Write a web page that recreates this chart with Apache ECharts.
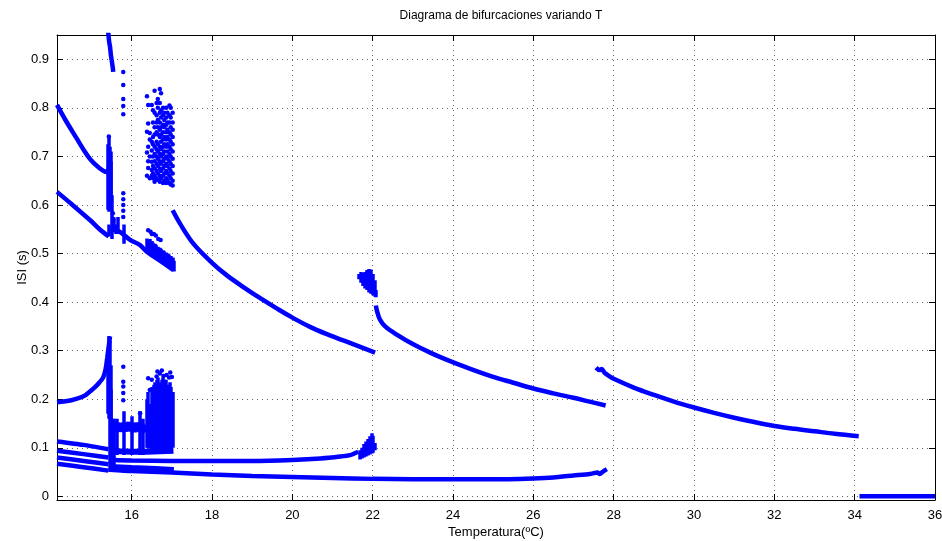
<!DOCTYPE html>
<html>
<head>
<meta charset="utf-8">
<script src="https://cdn.jsdelivr.net/npm/echarts@6/dist/echarts.min.js"></script>
<style>html,body{margin:0;padding:0;background:#fff}#c{width:942px;height:541px}</style>
</head>
<body>
<div id="c"></div>
<script>
// ---- axis ticks ----
const xTicks = [16, 18, 20, 22, 24, 26, 28, 30, 32, 34, 36];
const yTicks = [0, 0.1, 0.2, 0.3, 0.4, 0.5, 0.6, 0.7, 0.8, 0.9];

// ---- smooth branches [T, ISI] ----
const upperBranch = [[14.14,0.806],[14.35,0.775],[14.63,0.737],[14.8,0.714],[14.96,0.695],[15.1,0.683],[15.21,0.675],[15.3,0.670],[15.38,0.668],[15.42,0.672],[15.45,0.69]];
const topBranch = [[15.41,0.96],[15.44,0.935],[15.46,0.926],[15.48,0.91],[15.50,0.899],[15.53,0.882],[15.54,0.874]];
const midBranch = [[14.14,0.627],[14.5,0.602],[14.96,0.569],[15.2,0.55],[15.43,0.535]];
const midBranch2 = [[15.5,0.55],[15.7,0.545],[15.96,0.528],[16.2,0.518],[16.37,0.504],[16.62,0.49],[17.04,0.466]];
const lowBranch = [[14.14,0.194],[14.5,0.198],[14.8,0.206],[14.96,0.216],[15.1,0.226],[15.2,0.235],[15.29,0.245],[15.35,0.262],[15.39,0.285],[15.43,0.31],[15.46,0.329]];
const leftLine1 = [[14.14,0.113],[14.8,0.106],[15.42,0.097]];
const leftLine2 = [[14.14,0.094],[14.8,0.087],[15.42,0.08]];
const leftLine3 = [[14.14,0.080],[14.8,0.073],[15.42,0.066]];
const leftLine4 = [[14.14,0.067],[14.8,0.06],[15.42,0.053]];
const bandA = [[15.52,0.14],[15.6,0.147],[15.68,0.138],[15.75,0.145],[15.85,0.14],[15.95,0.147],[16.05,0.138],[16.15,0.146],[16.25,0.138],[16.36,0.145]];
const bandB = [[15.45,0.095],[15.7,0.093],[16,0.092],[16.36,0.092],[17.04,0.094]];
const lineC = [[15.45,0.078],[15.6,0.075],[16,0.074],[17,0.073],[18,0.073],[19,0.073],[20,0.075],[20.7,0.078],[21.19,0.082],[21.44,0.085],[21.64,0.092]];
const lineD = [[15.45,0.055],[16,0.052],[17,0.049],[18,0.045],[19,0.042],[20,0.04],[21,0.038],[22,0.036],[24,0.035],[25,0.035],[26,0.037],[26.5,0.039],[27,0.043],[27.4,0.046],[27.6,0.049],[27.65,0.046],[27.75,0.052],[27.83,0.056]];
const lineD2 = [[15.45,0.062],[16,0.06],[16.6,0.058],[17.05,0.056]];
const curve17to22 = [[17.02,0.589],[17.2,0.562],[17.53,0.521],[18.0,0.481],[18.37,0.455],[18.78,0.431],[19.2,0.408],[19.61,0.387],[20.0,0.368],[20.44,0.349],[20.86,0.334],[21.27,0.321],[21.69,0.308],[22.06,0.296]];
const curve22to28 = [[22.08,0.393],[22.1,0.384],[22.18,0.364],[22.31,0.35],[22.6,0.333],[23.01,0.313],[23.43,0.296],[23.85,0.281],[24.35,0.265],[25,0.246],[25.5,0.234],[26,0.222],[26.5,0.212],[27,0.203],[27.4,0.195],[27.8,0.187]];
const curve28to34 = [[27.56,0.265],[27.65,0.26],[27.7,0.262],[27.78,0.254],[27.9,0.247],[28.0,0.242],[28.5,0.224],[29,0.209],[29.5,0.195],[30,0.183],[30.5,0.172],[31,0.162],[31.5,0.153],[32,0.145],[32.5,0.139],[33,0.134],[33.5,0.129],[34.1,0.124]];
const zeroBranch = [[34.12,0],[36,0]];

// ---- vertical spreads [T, ISImin, ISImax] ----
const spreads = [
  [15.41,0.59,0.725],[15.43,0.586,0.74],[15.45,0.59,0.72],[15.47,0.595,0.71],[15.49,0.6,0.69],[15.51,0.575,0.62],
  [15.43,0.535,0.56],[15.5,0.53,0.575],[15.56,0.545,0.57],[15.6,0.54,0.56],[15.79,0.52,0.56],[15.65,0.54,0.575],
  [15.40,0.17,0.3],[15.43,0.16,0.33],[15.45,0.05,0.32],[15.47,0.05,0.27],[15.49,0.05,0.22],[15.52,0.05,0.16],[15.55,0.06,0.16],
  [15.62,0.085,0.16],[15.79,0.085,0.175],[16.0,0.085,0.165],[16.2,0.085,0.175],[16.28,0.085,0.16],
  [16.37,0.503,0.531],[16.41,0.5,0.528],[16.45,0.498,0.53],[16.49,0.496,0.526],[16.53,0.494,0.522],[16.57,0.491,0.52],[16.61,0.489,0.518],[16.65,0.487,0.514],[16.69,0.484,0.512],[16.73,0.482,0.51],[16.77,0.479,0.507],[16.81,0.477,0.505],[16.85,0.475,0.502],[16.89,0.473,0.5],[16.93,0.471,0.498],[16.97,0.468,0.495],[17.01,0.465,0.492],[17.04,0.463,0.485],
  [16.37,0.1,0.2],[16.41,0.099,0.215],[16.45,0.098,0.19],[16.5,0.097,0.225],[16.54,0.097,0.23],[16.58,0.096,0.235],[16.62,0.096,0.24],[16.66,0.096,0.245],[16.70,0.096,0.235],[16.74,0.096,0.24],[16.78,0.096,0.245],[16.82,0.097,0.235],[16.86,0.097,0.24],[16.90,0.097,0.23],[16.94,0.098,0.235],[16.98,0.098,0.225],[17.02,0.1,0.215],
  [21.65,0.447,0.458],[21.7,0.44,0.462],[21.75,0.433,0.46],[21.8,0.428,0.462],[21.85,0.425,0.466],[21.9,0.42,0.468],[21.95,0.417,0.467],[22.0,0.414,0.458],[22.04,0.411,0.445],[22.07,0.41,0.425],
  [21.68,0.076,0.095],[21.73,0.078,0.1],[21.78,0.08,0.108],[21.83,0.082,0.113],[21.88,0.084,0.118],[21.93,0.086,0.124],[21.97,0.088,0.13],[22.01,0.09,0.125],[22.05,0.095,0.11]
];

// ---- isolated points ----
const dots = [
  [15.79,0.874],[15.79,0.847],[15.79,0.818],[15.79,0.804],[15.79,0.787],[15.43,0.741],
  [15.79,0.624],[15.79,0.612],[15.79,0.6],[15.79,0.588],[15.79,0.575],[15.53,0.583],[15.55,0.571],
  [16.41,0.548],[16.47,0.545],[16.55,0.54],[16.6,0.537],[16.66,0.53],[16.72,0.528],[16.5,0.54],
  [15.79,0.267],[15.79,0.236],[15.79,0.226],[15.79,0.213],[15.79,0.198],[16.21,0.171],
  [16.41,0.243],[16.5,0.24],[16.62,0.247],[16.64,0.257],[16.75,0.259],[16.87,0.25],[17.0,0.246],[16.83,0.236],
  [16.45,0.219],[16.58,0.219],[16.7,0.253],[16.93,0.245],[16.96,0.255],[16.79,0.248]
];

// ---- chaotic cluster near 16.4-17.0 (upper) : [T, [ISI values]] ----
const upperCluster = [
  [16.38,[0.824,0.751,0.708,0.66]],
  [16.41,[0.806,0.768,0.72,0.69,0.676]],
  [16.45,[0.748,0.70,0.735,0.655]],
  [16.50,[0.806,0.73,0.712,0.689,0.672,0.66]],
  [16.53,[0.795,0.77,0.74,0.725,0.70,0.68,0.665,0.655]],
  [16.57,[0.835,0.79,0.76,0.745,0.72,0.705,0.69,0.675,0.66,0.648]],
  [16.62,[0.81,0.785,0.77,0.75,0.73,0.715,0.70,0.685,0.67,0.655]],
  [16.65,[0.818,0.80,0.775,0.76,0.745,0.725,0.71,0.695,0.68,0.665,0.652]],
  [16.70,[0.839,0.81,0.79,0.77,0.755,0.74,0.72,0.705,0.69,0.675,0.66,0.648]],
  [16.73,[0.83,0.795,0.78,0.76,0.745,0.73,0.715,0.70,0.685,0.67,0.655]],
  [16.78,[0.80,0.785,0.765,0.75,0.735,0.72,0.705,0.69,0.675,0.66,0.645]],
  [16.81,[0.79,0.775,0.76,0.74,0.725,0.71,0.695,0.68,0.665,0.65]],
  [16.86,[0.80,0.78,0.765,0.75,0.735,0.72,0.70,0.685,0.67,0.655,0.645]],
  [16.89,[0.79,0.77,0.755,0.74,0.725,0.71,0.695,0.68,0.665,0.65]],
  [16.94,[0.805,0.785,0.77,0.75,0.735,0.72,0.705,0.69,0.675,0.66,0.645]],
  [16.97,[0.80,0.78,0.76,0.745,0.73,0.715,0.70,0.685,0.67,0.655,0.642]],
  [17.02,[0.79,0.77,0.755,0.74,0.725,0.71,0.695,0.68,0.665,0.65,0.64]]
];

const BLUE = '#0000ff';
const smoothCurves = [upperBranch, topBranch, midBranch, midBranch2, lowBranch, curve17to22, curve22to28, curve28to34];
const straightCurves = [leftLine1, leftLine2, leftLine3, leftLine4, lineC, lineD, lineD2, zeroBranch];
const series = [];
smoothCurves.forEach(c => series.push({type:'line', data:c, symbol:'none', smooth:0.35, lineStyle:{color:BLUE, width:4.5}, silent:true, animation:false, z:3}));
straightCurves.forEach(c => series.push({type:'line', data:c, symbol:'none', smooth:0.2, lineStyle:{color:BLUE, width:4.5}, silent:true, animation:false, z:3}));
series.push({type:'line', data:bandA, symbol:'none', lineStyle:{color:BLUE, width:9}, animation:false});
series.push({type:'line', data:bandB, symbol:'none', lineStyle:{color:BLUE, width:6}, animation:false});
series.push({type:'lines', coordinateSystem:'cartesian2d', animation:false,
  data: spreads.map(s => ({coords:[[s[0], s[1]], [s[0], s[2]]]})),
  lineStyle:{color:BLUE, width:3.5, opacity:1}});
const clusterPts = [];
upperCluster.forEach(col => col[1].forEach(v => clusterPts.push([col[0], v])));
series.push({type:'scatter', data: dots.concat(clusterPts), symbolSize:4.5, itemStyle:{color:BLUE, opacity:1}, animation:false});

const FONT = 'Liberation Sans, Arial, sans-serif';
const chart = echarts.init(document.getElementById('c'), null, {renderer:'canvas'});
chart.setOption({
  backgroundColor:'#fff',
  animation:false,
  title:{text:'Diagrama de bifurcaciones variando T', left:496, top:5, textAlign:'center',
    textStyle:{fontSize:12, fontWeight:'normal', color:'#000', fontFamily:FONT}},
  grid:{left:57, right:7, top:35, bottom:41, containLabel:false, outerBoundsMode:'none'},
  xAxis:[{
    type:'value', min:14.14, max:36, position:'bottom',
    name:'Temperatura(ºC)', nameLocation:'middle', nameGap:26, nameMoveOverlap:false,
    nameTextStyle:{fontSize:13, color:'#000', fontFamily:FONT},
    axisLine:{show:true, onZero:false, lineStyle:{color:'#000', width:1}},
    axisTick:{show:true, inside:true, length:6, customValues:xTicks, lineStyle:{color:'#000'}},
    axisLabel:{show:true, customValues:xTicks, fontSize:13, color:'#000', fontFamily:FONT, margin:9},
    splitLine:{show:true, lineStyle:{color:'#666', type:[1,4], width:1}}
  },{
    type:'value', min:14.14, max:36, position:'top',
    axisLine:{show:true, onZero:false, lineStyle:{color:'#000', width:1}},
    axisTick:{show:true, inside:true, length:6, customValues:xTicks, lineStyle:{color:'#000'}},
    axisLabel:{show:false}, splitLine:{show:false}
  }],
  yAxis:[{
    type:'value', min:-0.0075, max:0.95, position:'left',
    name:'ISI (s)', nameLocation:'middle', nameGap:28, nameMoveOverlap:false,
    nameTextStyle:{fontSize:13, color:'#000', fontFamily:FONT},
    axisLine:{show:true, onZero:false, lineStyle:{color:'#000', width:1}},
    axisTick:{show:true, inside:true, length:6, customValues:yTicks, lineStyle:{color:'#000'}},
    axisLabel:{show:true, customValues:yTicks, fontSize:13, color:'#000', fontFamily:FONT, margin:8},
    splitLine:{show:true, lineStyle:{color:'#666', type:[1,4], width:1}}
  },{
    type:'value', min:-0.0075, max:0.95, position:'right',
    axisLine:{show:true, onZero:false, lineStyle:{color:'#000', width:1}},
    axisTick:{show:true, inside:true, length:6, customValues:yTicks, lineStyle:{color:'#000'}},
    axisLabel:{show:false}, splitLine:{show:false}
  }],
  series: series
});
</script>
</body>
</html>
